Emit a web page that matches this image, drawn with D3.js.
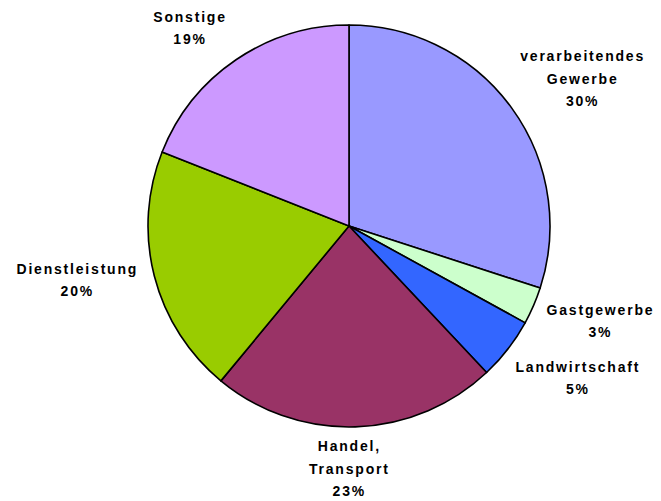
<!DOCTYPE html>
<html>
<head>
<meta charset="utf-8">
<script src="https://cdn.jsdelivr.net/npm/d3@7"></script>
<style>
  body { margin: 0; background: #fff; }
  text { font-family: "Liberation Sans", Arial, sans-serif; font-weight: bold; font-size: 14px; letter-spacing: 1.8px; fill: #000; }
</style>
</head>
<body>
<div id="chart"></div>
<script>
const labels  = [["verarbeitendes", "Gewerbe"], ["Gastgewerbe"], ["Landwirtschaft"], ["Handel,", "Transport"], ["Dienstleistung"], ["Sonstige"]];
const values  = [30, 3, 5, 23, 20, 19];
const colours = ["#9999FF", "#CCFFCC", "#3366FF", "#993366", "#99CC00", "#CC99FF"];
// label nudges from the slice's rim point
const nudges  = [[71, -29], [67, 15], [70, 29], [-6, 42], [-77, 4], [-46, -32]];

const W = 661, H = 501;
const cx = 349, cy = 226, R = 201;

const svg = d3.select("#chart").append("svg")
              .attr("width", W).attr("height", H);

const g = svg.append("g").attr("transform", `translate(${cx},${cy})`);

const pie = d3.pie().sort(null).value(d => d);
const arcs = pie(values);
const arc = d3.arc().innerRadius(0).outerRadius(R);

g.selectAll("path").data(arcs).enter().append("path")
  .attr("d", arc)
  .attr("fill", (d, i) => colours[i])
  .attr("stroke", "#000")
  .attr("stroke-width", 1.6)
  .attr("stroke-linejoin", "round");

const lineH = 22.5;
arcs.forEach((d, i) => {
  const a = (d.startAngle + d.endAngle) / 2;
  const x = R * Math.sin(a) + nudges[i][0];
  const y = -R * Math.cos(a) + nudges[i][1];
  const lines = labels[i].concat([values[i] + "%"]);
  const t = g.append("text")
             .attr("text-anchor", "middle")
             .attr("x", x)
             .attr("y", y - (lines.length - 1) * lineH / 2 + 5);
  lines.forEach((s, k) => {
    t.append("tspan").attr("x", x).attr("dy", k === 0 ? 0 : lineH).text(s);
  });
});
</script>
</body>
</html>
